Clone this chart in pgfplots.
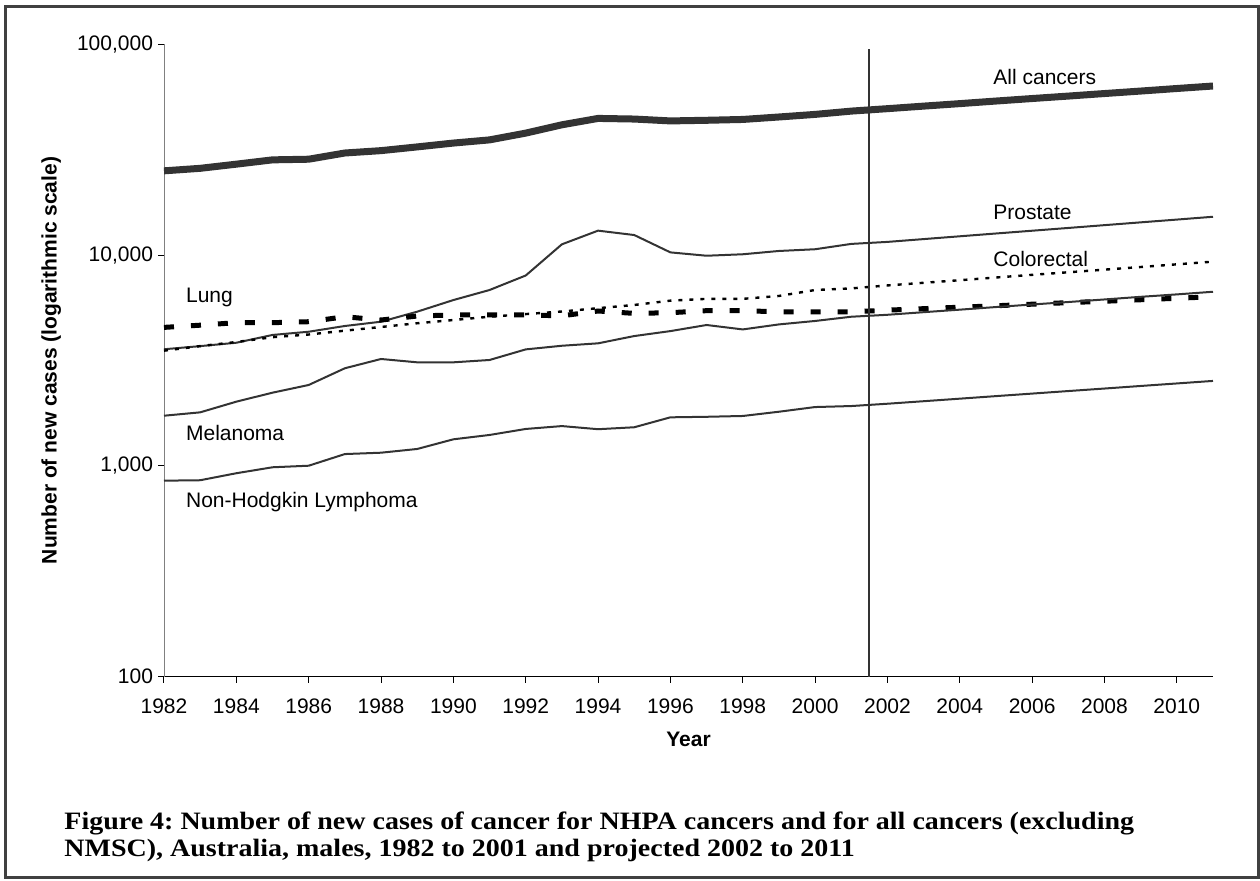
\documentclass[border=0pt]{standalone}
\usepackage{fontspec}
\setmainfont{Liberation Sans}
\newfontfamily\capfont[FakeStretch=1.12]{Liberation Serif}
\usepackage{pgfplots}
\usepackage{pgfplotstable}
\pgfplotsset{compat=1.18}

\definecolor{line}{HTML}{333333}
\definecolor{frame}{HTML}{404040}

% new cases by year, males; 2002-2011 are projections
\pgfplotstableread{
year  allc   prost  colo  lung  mel   nhl
1982  25100  3575   3520  4540  1730  851
1983  25800  3700   3700  4650  1795  855
1984  27000  3840   3870  4780  2017  923
1985  28300  4180   4080  4780  2225  985
1986  28500  4330   4200  4830  2420  1002
1987  30500  4610   4380  5100  2905  1138
1988  31300  4830   4560  4920  3215  1155
1989  32600  5390   4750  5140  3100  1203
1990  34000  6120   4920  5200  3100  1337
1991  35200  6830   5100  5200  3180  1402
1992  37900  8000   5250  5200  3570  1497
1993  41500  11250  5400  5150  3715  1545
1994  44500  13060  5600  5430  3815  1493
1995  44200  12450  5800  5290  4130  1525
1996  43300  10300  6080  5330  4360  1700
1997  43600  9930   6200  5450  4660  1710
1998  44000  10090  6200  5450  4440  1725
1999  45200  10460  6400  5380  4690  1807
2000  46500  10660  6830  5380  4870  1902
2001  48200  11300  6950  5380  5100  1923
2002  49500  11550  7180  5480  5210  1972
2003  50900  11910  7390  5570  5360  2027
2004  52300  12280  7600  5660  5510  2084
2005  53800  12660  7830  5750  5670  2143
2006  55300  13050  8060  5850  5830  2203
2007  56800  13450  8290  5950  5990  2265
2008  58400  13870  8530  6040  6160  2328
2009  60000  14300  8780  6140  6340  2394
2010  61700  14740  9040  6240  6510  2461
2011  63400  15200  9310  6345  6700  2530
}\cases

\begin{document}
\frenchspacing
\begin{tikzpicture}[font=\fontsize{10.5}{12}\selectfont]
\useasboundingbox (0,0) rectangle (630pt,440pt);
\draw[frame, line width=1.5pt] (2.5pt,1.5pt) rectangle (629pt,436.5pt);

\begin{axis}[
  at={(82pt,101.65pt)}, anchor=south west,
  scale only axis, width=524.5pt, height=316.2pt,
  ymode=log, ymin=100, ymax=100000,
  xmin=1982, xmax=2011,
  axis x line*=bottom, axis y line*=left,
  x axis line style={black, -},
  y axis line style={gray, -},
  xtick={1982,1984,...,2010},
  ytick={100,1000,10000,100000},
  yticklabels={100,{1,000},{10,000},{100,000}},
  minor ytick={}, minor xtick={},
  minor tick style={draw=none},
  tick label style={font=\fontsize{10.5}{12}\selectfont},
  x tick label style={/pgf/number format/1000 sep={}, yshift=-4.5pt},
  y tick label style={xshift=1pt},
  tick align=outside, major tick length=3pt,
  tick style={black, line width=0.5pt},
  /pgf/number format/assume math mode=true,
  xlabel={\bfseries Year},
  xlabel style={at={(rel axis cs:0.5,-0.0985)}, anchor=center},
  ylabel={\bfseries Number of new cases (logarithmic scale)},
  ylabel style={at={(rel axis cs:-0.1075,0.5)}, anchor=center},
  clip=false,
]
\addplot[line, line width=3.5pt] table[x=year, y=allc] {\cases};
\addplot[line, line width=1pt] table[x=year, y=prost] {\cases};
\addplot[black, line width=1.2pt, dash pattern=on 2pt off 3.5pt] table[x=year, y=colo] {\cases};
\addplot[black, line width=2.5pt, dash pattern=on 5pt off 8.5pt] table[x=year, y=lung] {\cases};
\addplot[line, line width=1pt] table[x=year, y=mel] {\cases};
\addplot[line, line width=1pt] table[x=year, y=nhl] {\cases};
% boundary between observed and projected years
\addplot[line, line width=1pt] coordinates {(2001.5,100) (2001.5,95000)};

\node[anchor=west, inner sep=0pt] at (axis cs:2004.92,70000) {All cancers};
\node[anchor=west, inner sep=0pt] at (axis cs:2004.92,16000) {Prostate};
\node[anchor=west, inner sep=0pt] at (axis cs:2004.92,9570) {Colorectal};
\node[anchor=west, inner sep=0pt] at (axis cs:1982.6,6330) {Lung};
\node[anchor=west, inner sep=0pt] at (axis cs:1982.6,1430) {Melanoma};
\node[anchor=west, inner sep=0pt] at (axis cs:1982.6,675) {Non-Hodgkin Lymphoma};
\end{axis}

\node[anchor=base west, inner sep=0pt, font=\capfont\bfseries\fontsize{12.5}{14}\selectfont]
  at (32pt,25.5pt) {Figure 4: Number of new cases of cancer for NHPA cancers and for all cancers (excluding};
\node[anchor=base west, inner sep=0pt, font=\capfont\bfseries\fontsize{12.5}{14}\selectfont]
  at (32pt,12pt) {NMSC), Australia, males, 1982 to 2001 and projected 2002 to 2011};
\end{tikzpicture}
\end{document}
